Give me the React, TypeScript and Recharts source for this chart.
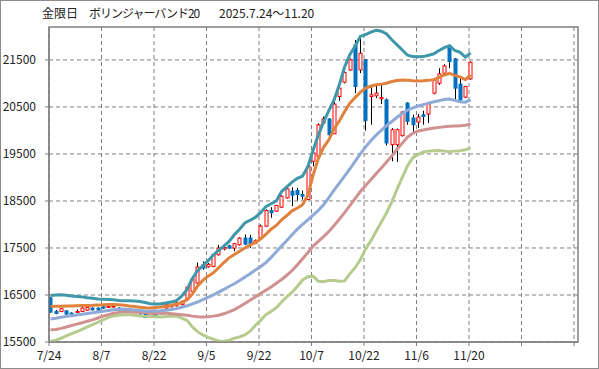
import React from 'react';
import {
  ComposedChart,
  Bar,
  Line,
  XAxis,
  YAxis,
  CartesianGrid,
  ReferenceArea,
} from 'recharts';

// 取引日 7/24〜11/20
const dates = [
  '7/24', '7/25', '7/28', '7/29', '7/30', '7/31', '8/1', '8/4', '8/5', '8/6',
  '8/7', '8/8', '8/12', '8/13', '8/14', '8/15', '8/18', '8/19', '8/20', '8/21',
  '8/22', '8/25', '8/26', '8/27', '8/28', '8/29', '9/1', '9/2', '9/3', '9/4',
  '9/5', '9/8', '9/9', '9/10', '9/11', '9/12', '9/16', '9/17', '9/18', '9/19',
  '9/22', '9/24', '9/25', '9/26', '9/29', '9/30', '10/1', '10/2', '10/3', '10/6',
  '10/7', '10/8', '10/9', '10/10', '10/14', '10/15', '10/16', '10/17', '10/20', '10/21',
  '10/22', '10/23', '10/24', '10/27', '10/28', '10/29', '10/30', '10/31', '11/4', '11/5',
  '11/6', '11/7', '11/10', '11/11', '11/12', '11/13', '11/14', '11/17', '11/18', '11/19',
  '11/20',
];

const opens = [
  16435, 16150, 16150, 16164, 16115, 16140, 16150, 16178, 16221, 16221,
  16249, 16240, 16245, 16220, 16207, 16150, 16080, 16150, 16094, 16045,
  16120, 16100, 16222, 16250, 16270, 16293, 16420, 16577, 16754, 17143,
  17100, 17107, 17355, 17480, 17546, 17497, 17568, 17710, 17710, 17604,
  17717, 17965, 18297, 18283, 18368, 18566, 18707, 18722, 18637, 18531,
  19344, 19450, 20157, 20242, 19930, 20722, 21026, 21288, 21818, 21288,
  21500, 20722, 20736, 20673, 20652, 19697, 19697, 19888, 20581, 20263,
  20178, 20334, 20348, 20793, 21005, 21217, 21804, 21521, 20984, 20708,
  21097,
];
const highs = [
  16460, 16180, 16225, 16180, 16130, 16190, 16240, 16250, 16240, 16235,
  16265, 16290, 16290, 16240, 16225, 16190, 16150, 16165, 16110, 16130,
  16140, 16180, 16310, 16300, 16345, 16380, 16690, 16860, 17190, 17213,
  17180, 17370, 17567, 17560, 17570, 17610, 17730, 17786, 17780, 17680,
  18000, 18320, 18368, 18420, 18620, 18813, 18792, 18778, 18722, 19287,
  19591, 20150, 20298, 20263, 20616, 20934, 21288, 21530, 21924, 21990,
  21520, 20970, 20984, 20970, 20680, 20050, 20040, 20410, 20600, 20334,
  20348, 20418, 20590, 21090, 21323, 21408, 21832, 21540, 21111, 20950,
  21470,
];
const lows = [
  16120, 16090, 16135, 16080, 16070, 16110, 16140, 16165, 16170, 16165,
  16205, 16225, 16230, 16165, 16150, 16135, 16065, 16085, 16010, 16030,
  16045, 16085, 16205, 16235, 16255, 16280, 16400, 16560, 16740, 17037,
  17080, 17090, 17340, 17450, 17480, 17430, 17550, 17560, 17500, 17580,
  17700, 17950, 18142, 18270, 18350, 18550, 18389, 18509, 18530, 18520,
  19238, 19414, 20140, 19839, 19920, 20630, 21000, 21270, 20793, 21220,
  19994, 20121, 20687, 20560, 19680, 19344, 19330, 19870, 20121, 19944,
  20050, 20121, 20157, 20770, 20970, 21200, 21323, 20652, 20630, 20690,
  21080,
];
const closes = [
  16137, 16108, 16207, 16094, 16094, 16150, 16221, 16235, 16185, 16178,
  16221, 16255, 16265, 16180, 16164, 16170, 16136, 16100, 16023, 16115,
  16060, 16160, 16293, 16285, 16330, 16364, 16669, 16839, 17094, 17072,
  17150, 17355, 17497, 17510, 17497, 17589, 17710, 17583, 17590, 17653,
  17965, 18297, 18248, 18403, 18601, 18757, 18622, 18637, 18601, 19238,
  19520, 20121, 20242, 19909, 20560, 20899, 21231, 21500, 20934, 21641,
  20213, 20758, 20793, 20700, 19733, 20015, 20015, 20390, 20192, 20121,
  20284, 20298, 20567, 21076, 21203, 21373, 21465, 20899, 20652, 20934,
  21450,
];

// ボリンジャーバンド (+2σ, +1σ, 20日移動平均, -1σ, -2σ)
const upper2 = [
  16490, 16500, 16505, 16495, 16480, 16470, 16460, 16440, 16430, 16415,
  16410, 16405, 16400, 16385, 16380, 16375, 16370, 16360, 16340, 16315,
  16310, 16312, 16330, 16350, 16380, 16480, 16620, 16850, 17020, 17120,
  17230, 17350, 17450, 17540, 17640, 17780, 17900, 18030, 18090, 18150,
  18250, 18380, 18440, 18500, 18700, 18800, 18900, 18980, 19030, 19230,
  19580, 19900, 20180, 20420, 20650, 20970, 21350, 21610, 21790, 22000,
  22040, 22090, 22130, 22110, 22050, 21930, 21820, 21710, 21600, 21570,
  21565, 21570, 21600, 21630, 21700, 21760, 21800, 21700, 21660, 21560,
  21650,
];
const upper1 = [
  16255, 16260, 16262, 16265, 16265, 16270, 16275, 16278, 16280, 16285,
  16290, 16300, 16300, 16290, 16280, 16265, 16255, 16240, 16230, 16225,
  16235, 16245, 16260, 16280, 16305, 16340, 16400, 16520, 16690, 16810,
  16900, 16970, 17080, 17190, 17290, 17360, 17430, 17500, 17560, 17620,
  17690, 17790, 17900, 17980, 18100, 18190, 18290, 18350, 18420, 18620,
  19050, 19400, 19640, 19800, 20030, 20200, 20400, 20580, 20700, 20810,
  20900, 20940, 20970, 20985, 21005, 21040, 21060, 21075, 21070, 21055,
  21050, 21055, 21065, 21080, 21130, 21180, 21215, 21170, 21140, 21080,
  21180,
];
const middle = [
  15990, 16005, 16025, 16045, 16060, 16075, 16090, 16105, 16120, 16140,
  16155, 16170, 16185, 16195, 16195, 16190, 16180, 16170, 16160, 16155,
  16160, 16165, 16175, 16190, 16210, 16240, 16270, 16310, 16350, 16400,
  16450, 16500, 16560, 16620, 16680, 16740, 16810, 16880, 16950, 17030,
  17100, 17190, 17300, 17420, 17540, 17660, 17780, 17900, 18000, 18100,
  18200, 18300, 18420, 18570, 18730, 18880, 19030, 19180, 19340, 19500,
  19650, 19780, 19900, 20000, 20100, 20190, 20280, 20360, 20430, 20480,
  20520, 20550, 20580, 20610, 20630, 20660, 20670, 20640, 20610, 20600,
  20650,
];
const lower1 = [
  15760, 15765, 15790, 15820, 15850, 15880, 15910, 15940, 15970, 16010,
  16050, 16080, 16110, 16130, 16145, 16150, 16145, 16135, 16125, 16115,
  16110, 16110, 16110, 16100, 16090, 16080, 16070, 16050, 16035, 16030,
  16035, 16050, 16070, 16100, 16140, 16190, 16250, 16320, 16390, 16460,
  16530, 16600, 16670, 16750, 16830, 16920, 17020, 17140, 17270, 17400,
  17540, 17640, 17740, 17850, 17980, 18110, 18250, 18400, 18550, 18700,
  18830, 18950, 19080, 19200, 19330, 19460, 19600, 19730, 19860, 19940,
  19990, 20010, 20030, 20050, 20065, 20080, 20090, 20095, 20100, 20110,
  20135,
];
const lower2 = [
  15515, 15540, 15580, 15630, 15680, 15720, 15770, 15820, 15870, 15920,
  15970, 16020, 16055, 16070, 16080, 16080, 16070, 16055, 16045, 16040,
  16035, 16030, 16040, 16055, 16050, 16010, 15960, 15820, 15720, 15650,
  15600, 15560, 15520, 15510, 15540, 15580, 15610, 15650, 15730, 15850,
  15960, 16080, 16150, 16230, 16350, 16460, 16560, 16680, 16820, 16890,
  16900, 16790, 16780, 16810, 16810, 16790, 16800, 16950, 17080, 17250,
  17480, 17650, 17850, 18050, 18250, 18480, 18750, 19000, 19250, 19420,
  19490, 19540, 19560, 19570, 19575, 19560, 19545, 19560, 19570, 19590,
  19625,
];

const tickLabels = ['7/24', '8/7', '8/22', '9/5', '9/22', '10/7', '10/22', '11/6', '11/20', '', ''];
const yTicks = [15500, 16500, 17500, 18500, 19500, 20500, 21500];

// ローソク足は目盛り線から少し右にずれている
const X_SHIFT = 0.3;
const X_MIN = -X_SHIFT;
const X_MAX = 100.46;
const Y_MIN = 15500;
const Y_MAX = 22200;

const FONT = "'Noto Sans CJK JP', 'Noto Sans', sans-serif";
const GRID = '#808080';

const data = dates.map((d, i) => ({
  x: i,
  date: d,
  open: opens[i],
  high: highs[i],
  low: lows[i],
  close: closes[i],
  up2: upper2[i],
  up1: upper1[i],
  mid: middle[i],
  dn1: lower1[i],
  dn2: lower2[i],
}));

const xTicks = tickLabels.map((_, k) => k * 10 - X_SHIFT);

function Candle(props: any) {
  const { x, y, width, height, payload } = props;
  if (!payload || height == null) return null;
  const { open, close, high, low } = payload;
  const cx = Math.round(x + width / 2) + 0.5;
  const k = high > low ? height / (high - low) : 0;
  const py = (v: number) => y + (high - v) * k;
  const up = close >= open;
  const top = py(Math.max(open, close));
  const bh = Math.max(1, Math.abs(py(open) - py(close)));
  return (
    <g>
      <line x1={cx} x2={cx} y1={py(high)} y2={py(low)} stroke="#000" strokeWidth={1} />
      {up ? (
        <rect x={cx - 1.5} y={top} width={3} height={bh} fill="#fff" stroke="#ff0000" strokeWidth={1} />
      ) : (
        <rect x={cx - 2} y={top - 0.5} width={4} height={bh + 1} fill="#0070c0" />
      )}
    </g>
  );
}

export default function App() {
  return (
    <div
      style={{
        position: 'absolute',
        left: 0,
        top: 0,
        width: 599,
        height: 369,
        boxSizing: 'border-box',
        border: '1px solid #8c8c8c',
        background: '#fff',
        fontFamily: FONT,
      }}
    >
      <div style={{ position: 'absolute', left: 41, top: 3, fontSize: 12, color: '#222', whiteSpace: 'nowrap' }}>
        金限日
      </div>
      <div style={{ position: 'absolute', left: 88, top: 3, fontSize: 12, color: '#222', whiteSpace: 'nowrap', letterSpacing: -1 }}>
        ボリンジャーバンド20
      </div>
      <div style={{ position: 'absolute', left: 218, top: 3, fontSize: 12, color: '#222', whiteSpace: 'nowrap' }}>
        2025.7.24〜11.20
      </div>
      <ComposedChart
        width={597}
        height={367}
        data={data}
        margin={{ top: 26, right: 20, bottom: 0, left: 0 }}
        style={{ position: 'absolute', left: 0, top: 0 }}
      >
        <CartesianGrid
          stroke={GRID}
          strokeDasharray="4 3"
          horizontalValues={yTicks}
          verticalValues={xTicks}
        />
        <XAxis
          dataKey="x"
          type="number"
          domain={[X_MIN, X_MAX]}
          ticks={xTicks}
          allowDataOverflow
          height={26}
          tickSize={4}
          tickMargin={5}
          tickLine={{ stroke: GRID }}
          axisLine={{ stroke: GRID }}
          tick={{ fill: '#222', fontSize: 12, fontFamily: FONT }}
          tickFormatter={(v: number) => tickLabels[Math.round((v + X_SHIFT) / 10)] ?? ''}
        />
        <YAxis
          type="number"
          domain={[Y_MIN, Y_MAX]}
          ticks={yTicks}
          allowDataOverflow
          width={48}
          tickSize={4}
          tickMargin={9}
          tickLine={{ stroke: GRID }}
          axisLine={{ stroke: GRID }}
          tick={{ fill: '#222', fontSize: 12, fontFamily: FONT }}
        />
        <ReferenceArea
          x1={X_MIN}
          x2={X_MAX}
          y1={Y_MIN}
          y2={Y_MAX}
          fill="none"
          stroke={GRID}
          strokeWidth={1.5}
          ifOverflow="visible"
        />
        <Bar
          dataKey={(d: any) => [d.low, d.high]}
          barSize={5}
          shape={<Candle />}
          isAnimationActive={false}
        />
        <Line dataKey="dn2" stroke="#b5cc8e" strokeWidth={3} dot={false} isAnimationActive={false} />
        <Line dataKey="dn1" stroke="#d09191" strokeWidth={3} dot={false} isAnimationActive={false} />
        <Line dataKey="mid" stroke="#8faad6" strokeWidth={3} dot={false} isAnimationActive={false} />
        <Line dataKey="up1" stroke="#e0813c" strokeWidth={3} dot={false} isAnimationActive={false} />
        <Line dataKey="up2" stroke="#3f98a9" strokeWidth={3} dot={false} isAnimationActive={false} />
      </ComposedChart>
    </div>
  );
}
